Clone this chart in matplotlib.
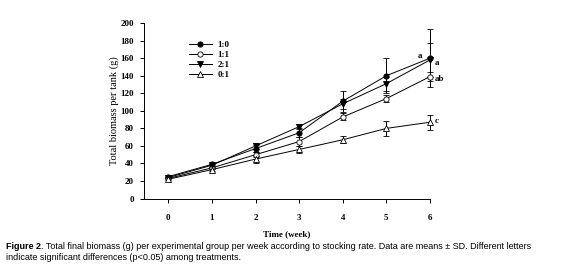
import matplotlib.pyplot as plt
from matplotlib.lines import Line2D

# weeks and stocking-rate groups
weeks = [0, 1, 2, 3, 4, 5, 6]
labels = ["1:0", "1:1", "2:1", "0:1"]

biomass_10 = [25, 39, 57, 75, 111, 140, 160]
sd_10 = [1.5, 1.5, 4, 5, 12, 20, 33]
biomass_11 = [23, 35, 50, 65, 93, 114, 139]
sd_11 = [1, 1.5, 3, 5, 4, 4, 5]
biomass_21 = [24, 38, 60, 82, 108, 131, 158]
sd_21 = [1, 1.5, 3, 3, 6, 8, 19]
biomass_01 = [22, 33, 45, 56, 67, 80, 87]
sd_01 = [1, 1.5, 4, 4, 4, 8.5, 8.5]

letters = ["a", "a", "ab", "c"]

serif = "Liberation Serif"
sans = "Liberation Sans"

fig = plt.figure(figsize=(5.65, 2.72), dpi=100)
ax = fig.add_axes([0.254, 0.27, 0.507, 0.645])

series = [
    (biomass_10, sd_10, dict(marker="o", mfc="black")),
    (biomass_11, sd_11, dict(marker="o", mfc="white")),
    (biomass_21, sd_21, dict(marker="v", mfc="black")),
    (biomass_01, sd_01, dict(marker="^", mfc="white")),
]
handles = []
for (vals, sd, style), lab in zip(series, labels):
    eb = ax.errorbar(weeks, vals, yerr=sd, color="black", lw=0.7, elinewidth=0.7,
                     capsize=2.5, capthick=0.7, markersize=3.8, mec="black", mew=0.6,
                     **style)
    for art in eb.lines[1] + eb.lines[2]:
        art.set_clip_on(False)
    eb.lines[0].set_clip_on(False)
    handles.append(Line2D([], [], color="black", lw=0.7, markersize=3.8, mec="black",
                          mew=0.6, label=lab, **style))

# significance letters at week 6
kw = dict(fontsize=6.5, family=serif, weight="bold", ha="center", va="center")
ax.text(5.77, biomass_10[-1] + 3, letters[0], **kw)
ax.text(6.17, biomass_21[-1] - 4, letters[1], **kw)
ax.text(6.22, biomass_11[-1] - 3, letters[2], **kw)
ax.text(6.15, biomass_01[-1] + 1, letters[3], **kw)

ax.set_xlim(-0.57, 6)
ax.set_ylim(0, 200)
ax.set_xticks(weeks)
ax.set_yticks(range(0, 201, 20))
for side in ["top", "right"]:
    ax.spines[side].set_visible(False)
for side in ["left", "bottom"]:
    ax.spines[side].set_linewidth(0.7)
ax.tick_params(direction="out", length=3, width=0.7, labelsize=6.5)
ax.tick_params(axis="x", pad=8)
ax.tick_params(axis="y", pad=4)
for t in ax.get_xticklabels() + ax.get_yticklabels():
    t.set_family(serif)
    t.set_weight("bold")

ax.set_xlabel("Time (week)", family=serif, weight="bold", fontsize=6.5, labelpad=6)
ax.set_ylabel("Total biomass per tank (g)", family=serif, fontsize=7.5, labelpad=1)

ax.legend(handles=handles, loc="upper left", bbox_to_anchor=(0.145, 0.92), frameon=False,
          prop=dict(family=serif, weight="bold", size=6.5), handlelength=2.6,
          labelspacing=0.2, handletextpad=0.6, borderaxespad=0)

t1 = fig.text(0.011, 0.085, "Figure 2", fontsize=6.5, family=sans, weight="bold")
ax.annotate(". Total final biomass (g) per experimental group per week according to "
            "stocking rate. Data are means ± SD. Different letters",
            xy=(1, 0), xycoords=t1, va="bottom", fontsize=6.5, family=sans,
            annotation_clip=False)
fig.text(0.011, 0.043, "indicate significant differences (p<0.05) among treatments.",
         fontsize=6.5, family=sans)

fig.savefig("out.png", dpi=100)
